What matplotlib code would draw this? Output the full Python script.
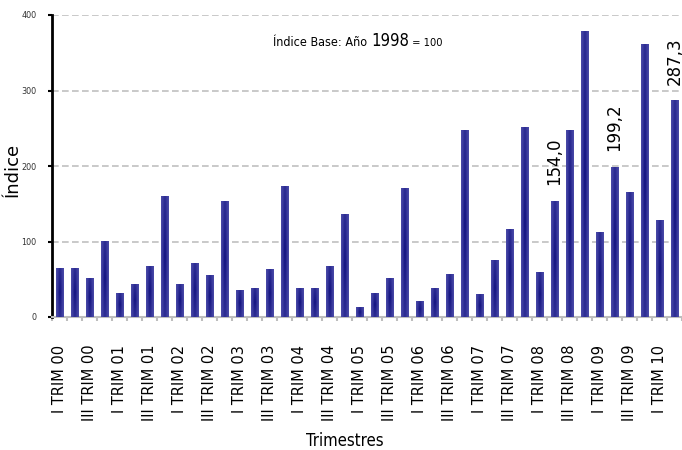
import numpy as np
import matplotlib
matplotlib.use('Agg')
import matplotlib.pyplot as plt
from matplotlib.patches import Rectangle
from matplotlib.offsetbox import TextArea, HPacker, AnchoredOffsetbox

# ── Data ──────────────────────────────────────────────────────────────────────
values = [65, 65, 52, 101, 32, 44, 68, 160, 44, 71, 55, 153,
          36, 39, 63, 174, 39, 39, 68, 137, 13, 32, 52, 171,
          21, 39, 57, 248, 30, 76, 117, 251, 60, 154.0, 248, 379,
          112, 199.2, 166, 362, 128, 287.3]
years = ['00', '01', '02', '03', '04', '05', '06', '07', '08', '09', '10']
tick_labels = []
for y in years:
    tick_labels += ['I TRIM ' + y, 'III TRIM ' + y]
tick_labels = tick_labels[:21]          # last one: I TRIM 10
labelled = {33: '154,0', 37: '199,2', 41: '287,3'}
yticks = [0, 100, 200, 300, 400]

NARROW = dict(family='DejaVu Sans', stretch='condensed')

# ── Figure ────────────────────────────────────────────────────────────────────
fig = plt.figure(figsize=(6.82, 4.5), dpi=100)
ax = fig.add_axes([52/682, 133/450, 630/682, 302/450])

# gradient used to fill each bar (dark core, lighter edges)
edge = np.array([74, 74, 168]) / 255
core = np.array([14, 14, 125]) / 255
gx = np.linspace(-1, 1, 40)
gy = np.linspace(-1, 1, 80)
X, Y = np.meshgrid(gx, gy)
dark = (1 - np.abs(X)) ** 1.2 * (0.55 + 0.45 * (1 - np.abs(Y)))
grad = edge[None, None, :] + (core - edge)[None, None, :] * dark[..., None]

width = 0.47
xs = np.arange(len(values))
for x, v in zip(xs, values):
    rect = Rectangle((x - width/2, 0), width, v, facecolor='none',
                     edgecolor='none', zorder=3)
    ax.add_patch(rect)
    im = ax.imshow(grad, extent=[x - width/2, x + width/2, 0, v],
                   aspect='auto', zorder=3, interpolation='bilinear')
    im.set_clip_path(rect)

for i, txt in labelled.items():
    ax.annotate(txt, (xs[i], values[i]), xytext=(0, 11), textcoords='offset points',
                rotation=90, ha='center', va='bottom', fontsize=12,
                family='DejaVu Sans', color='black', zorder=4)

ax.set_xlim(-0.53, len(values) - 0.5)
ax.set_ylim(0, 400)

# grid
ax.set_yticks(yticks)
ax.yaxis.grid(True, linestyle=(0, (4, 2)), color='#c0c0c0', linewidth=1.2, zorder=0)
ax.set_axisbelow(True)

# spines
for s in ['top', 'right']:
    ax.spines[s].set_visible(False)
ax.spines['left'].set_linewidth(2)
ax.spines['left'].set_color('black')
ax.spines['bottom'].set_linewidth(1.5)
ax.spines['bottom'].set_color('#bdbdbd')

# ticks
ax.set_xticks(xs[::2][:len(tick_labels)])
ax.set_xticklabels(tick_labels, rotation=90, va='top', ha='center',
                   fontsize=10.5, family='DejaVu Sans')
ax.tick_params(axis='x', which='major', length=0, pad=20)
ax.set_xticks(np.arange(-0.5, len(values), 1), minor=True)
ax.tick_params(axis='x', which='minor', length=3, width=1.5, color='#bdbdbd')
ax.tick_params(axis='y', length=3, width=1.5, color='black', pad=8,
               labelsize=6.5, labelcolor='#333333')
for lab in ax.get_yticklabels():
    lab.set_fontstretch('condensed')

# annotation with mixed font sizes
parts = [TextArea('Índice Base: Año ', textprops=dict(fontsize=9, **NARROW)),
         TextArea('1998', textprops=dict(fontsize=12, **NARROW)),
         TextArea(' = 100', textprops=dict(fontsize=8, **NARROW))]
box = HPacker(children=parts, align='baseline', pad=0, sep=0)
anch = AnchoredOffsetbox(loc='lower left', child=box, pad=0, borderpad=0,
                         frameon=False, bbox_to_anchor=(0.351, 0.885),
                         bbox_transform=ax.transAxes)
ax.add_artist(anch)

# axis titles
fig.text(13/682, 1 - 170/450, 'Índice', rotation=90, ha='center', va='center',
         fontsize=13, family='DejaVu Sans')
fig.text(345/682, 1 - 441/450, 'Trimestres', ha='center', va='center',
         fontsize=12, **NARROW)

plt.savefig('out.png', dpi=100)
